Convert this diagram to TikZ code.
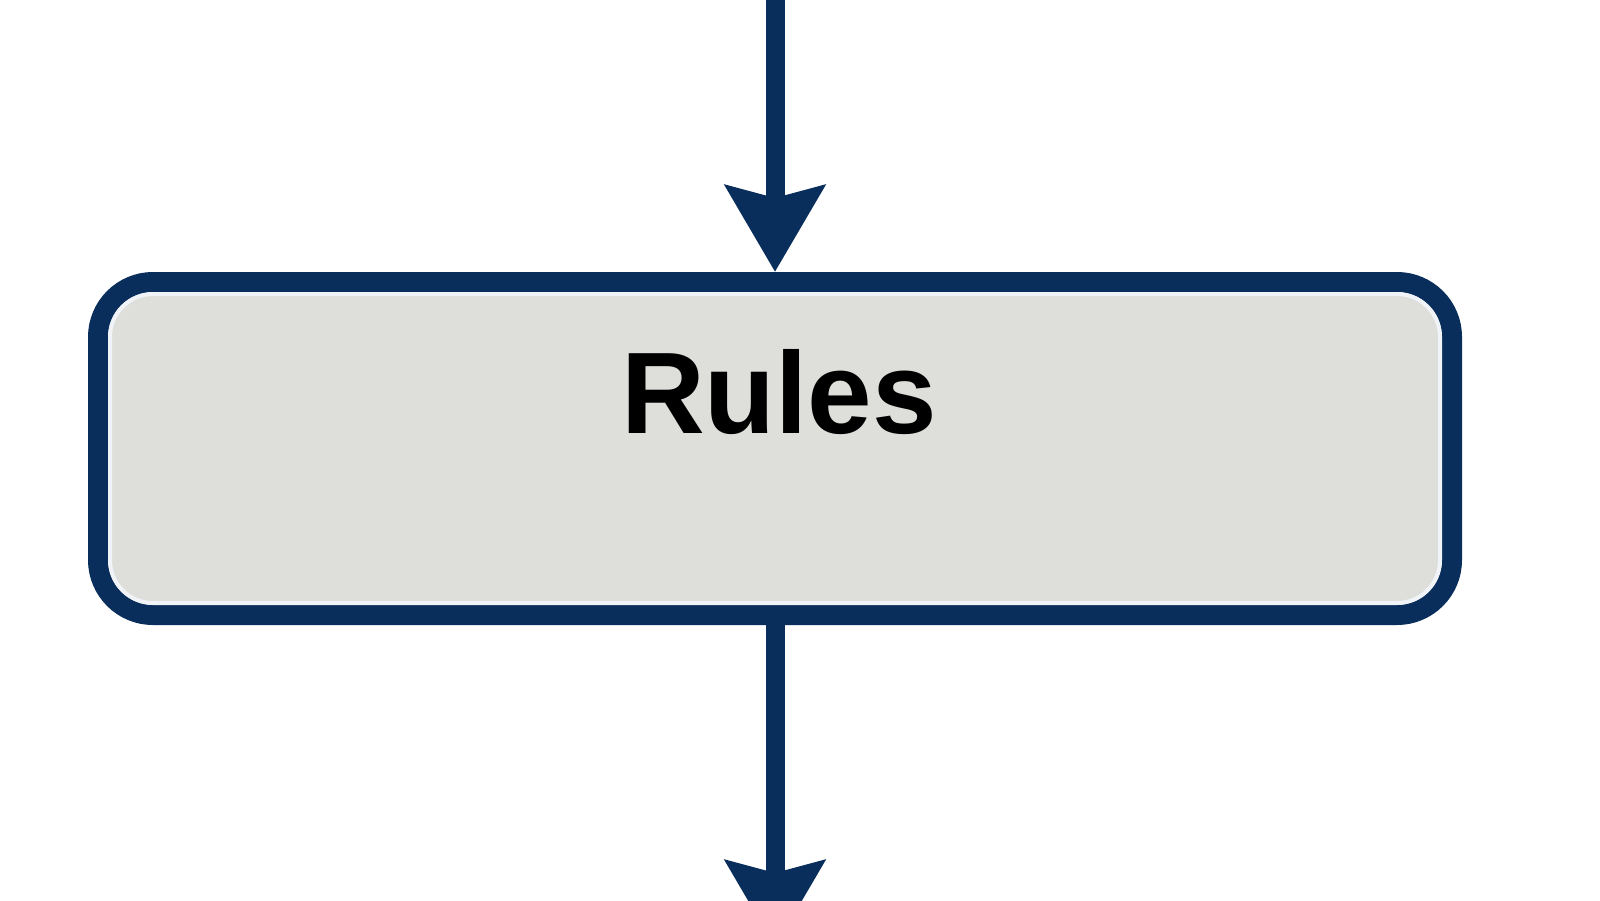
\documentclass[tikz,border=0pt]{standalone}
\usepackage{fontspec}
\setmainfont{Liberation Sans}
\usetikzlibrary{arrows.meta}
\definecolor{navy}{RGB}{10,46,92}
\definecolor{boxfill}{RGB}{222,222,218}
\definecolor{hilite}{RGB}{240,244,248}
\begin{document}
\begin{tikzpicture}[x=1pt,y=-1pt,
  flowbox/.style={draw=navy, fill=boxfill, line width=20pt, rounded corners=55pt,
    minimum width=1354pt, minimum height=333pt, inner sep=0pt},
  flowarrow/.style={draw=navy, line width=19pt,
    -{Stealth[length=86pt, width=98pt, inset=12pt]}},
  boxtext/.style={font=\fontsize{116}{120}\selectfont\bfseries, text=black, inner sep=0pt, anchor=base}
]
\useasboundingbox[fill=white] (0,0) rectangle (1600,900);
\node[flowbox] (box) at (775,448.5) {};
\draw[hilite, line width=4pt, rounded corners=43pt]
  ([shift={(22,22)}]box.north west) rectangle ([shift={(-22,-22)}]box.south east);
\node[boxtext] (boxlabel) at (779,433) {Rules};
\coordinate (topin) at (775,-40);
\coordinate (botout) at (775,947);
\draw[flowarrow] (topin) -- (box.north);
\draw[flowarrow] (box.south) -- (botout);
\end{tikzpicture}
\end{document}
